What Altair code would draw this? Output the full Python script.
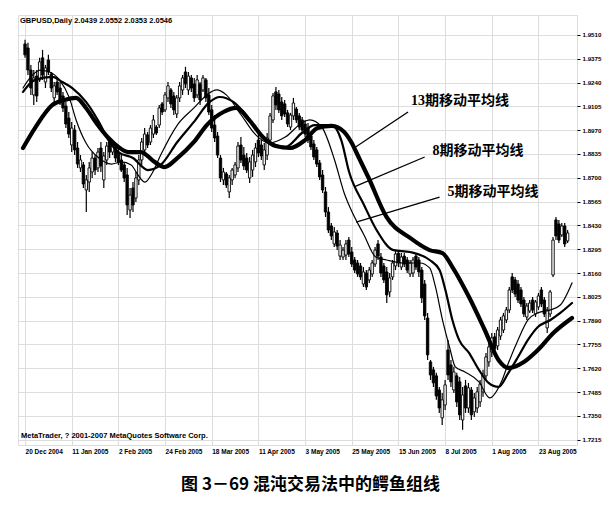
import altair as alt
import pandas as pd

# ---------------- data ----------------
X_LABELS = ["20 Dec 2004", "11 Jan 2005", "2 Feb 2005", "24 Feb 2005", "18 Mar 2005",
            "11 Apr 2005", "3 May 2005", "25 May 2005", "15 Jun 2005", "8 Jul 2005",
            "1 Aug 2005", "23 Aug 2005"]
Y_TICKS = [1.9510, 1.9375, 1.9240, 1.9105, 1.8970, 1.8835, 1.8700, 1.8565, 1.8430,
           1.8295, 1.8160, 1.8025, 1.7890, 1.7755, 1.7620, 1.7485, 1.7350, 1.7215]

OPEN = [1.9459, 1.9436, 1.9311, 1.9170, 1.9277, 1.9255, 1.9380, 1.9243, 1.9368, 1.9289,
        1.9153, 1.9243, 1.9209, 1.9164, 1.9107, 1.9039, 1.8886, 1.8971, 1.8869, 1.8756,
        1.8773, 1.8631, 1.8676, 1.8733, 1.8812, 1.8756, 1.8869, 1.8688, 1.8801, 1.8903,
        1.8846, 1.8869, 1.8846, 1.8801, 1.8773, 1.8716, 1.8517, 1.8642, 1.8585, 1.8688,
        1.8801, 1.8858, 1.8943, 1.8903, 1.8948, 1.8988, 1.8999, 1.9119, 1.9085, 1.9153,
        1.9198, 1.9164, 1.9062, 1.9153, 1.9198, 1.9300, 1.9198, 1.9266, 1.9232, 1.9170,
        1.9232, 1.9198, 1.9255, 1.9170, 1.9085, 1.8999, 1.8937, 1.8812, 1.8688, 1.8722,
        1.8620, 1.8688, 1.8716, 1.8756, 1.8886, 1.8829, 1.8812, 1.8699, 1.8744, 1.8790,
        1.8914, 1.8886, 1.8773, 1.8829, 1.8914, 1.9028, 1.9187, 1.9175, 1.9130, 1.9119,
        1.9068, 1.8988, 1.9051, 1.9090, 1.9051, 1.9028, 1.9005, 1.8982, 1.8937, 1.8892,
        1.8858, 1.8784, 1.8716, 1.8620, 1.8506, 1.8427, 1.8325, 1.8387, 1.8256, 1.8251,
        1.8262, 1.8347, 1.8279, 1.8234, 1.8217, 1.8200, 1.8098, 1.8160, 1.8121, 1.8155,
        1.8211, 1.8325, 1.8251, 1.8200, 1.8166, 1.8053, 1.8138, 1.8200, 1.8273, 1.8194,
        1.8256, 1.8234, 1.8155, 1.8160, 1.8256, 1.8234, 1.8177, 1.8098, 1.7905, 1.7656,
        1.7611, 1.7577, 1.7497, 1.7339, 1.7412, 1.7724, 1.7639, 1.7497, 1.7577, 1.7543,
        1.7327, 1.7520, 1.7395, 1.7497, 1.7373, 1.7395, 1.7429, 1.7486, 1.7577, 1.7656,
        1.7713, 1.7798, 1.7747, 1.7803, 1.7837, 1.7894, 1.7951, 1.8138, 1.8121, 1.8098,
        1.8064, 1.8007, 1.7911, 1.7945, 1.8007, 1.7928, 1.7968, 1.8064, 1.8007, 1.7849,
        1.7928, 1.8149, 1.8461, 1.8438, 1.8376, 1.8427, 1.8342]
HIGH = [1.9482, 1.9465, 1.9340, 1.9311, 1.9311, 1.9380, 1.9425, 1.9340, 1.9397, 1.9300,
        1.9243, 1.9266, 1.9243, 1.9187, 1.9130, 1.9073, 1.9017, 1.8999, 1.8903, 1.8829,
        1.8790, 1.8716, 1.8790, 1.8846, 1.8829, 1.8869, 1.8903, 1.8846, 1.8903, 1.8926,
        1.8903, 1.8886, 1.8869, 1.8829, 1.8790, 1.8756, 1.8642, 1.8676, 1.8733, 1.8829,
        1.8926, 1.8982, 1.8960, 1.8999, 1.9056, 1.8999, 1.9113, 1.9130, 1.9187, 1.9243,
        1.9209, 1.9187, 1.9170, 1.9243, 1.9283, 1.9329, 1.9300, 1.9283, 1.9266, 1.9283,
        1.9243, 1.9283, 1.9266, 1.9209, 1.9113, 1.9056, 1.8960, 1.8829, 1.8756, 1.8733,
        1.8716, 1.8756, 1.8790, 1.8903, 1.8931, 1.8875, 1.8841, 1.8818, 1.8858, 1.8897,
        1.8954, 1.8914, 1.8897, 1.8954, 1.9068, 1.9181, 1.9215, 1.9198, 1.9158, 1.9141,
        1.9085, 1.9068, 1.9153, 1.9102, 1.9068, 1.9045, 1.9028, 1.9011, 1.8954, 1.8914,
        1.8875, 1.8801, 1.8744, 1.8648, 1.8534, 1.8444, 1.8421, 1.8404, 1.8347, 1.8308,
        1.8347, 1.8364, 1.8308, 1.8251, 1.8234, 1.8217, 1.8194, 1.8177, 1.8194, 1.8234,
        1.8308, 1.8347, 1.8273, 1.8217, 1.8194, 1.8160, 1.8234, 1.8290, 1.8290, 1.8273,
        1.8273, 1.8251, 1.8234, 1.8251, 1.8273, 1.8251, 1.8194, 1.8121, 1.7934, 1.7667,
        1.7628, 1.7594, 1.7514, 1.7480, 1.7554, 1.7781, 1.7667, 1.7628, 1.7594, 1.7571,
        1.7514, 1.7554, 1.7537, 1.7514, 1.7480, 1.7514, 1.7554, 1.7611, 1.7707, 1.7764,
        1.7820, 1.7820, 1.7854, 1.7911, 1.7934, 1.7968, 1.8081, 1.8160, 1.8138, 1.8121,
        1.8081, 1.8024, 1.7990, 1.8007, 1.8024, 1.8007, 1.8047, 1.8081, 1.8024, 1.7968,
        1.8064, 1.8364, 1.8478, 1.8461, 1.8444, 1.8444, 1.8404]
LOW = [1.9380, 1.9283, 1.9170, 1.9113, 1.9130, 1.9243, 1.9255, 1.9209, 1.9283, 1.9187,
       1.9130, 1.9170, 1.9113, 1.9073, 1.8982, 1.8926, 1.8846, 1.8829, 1.8756, 1.8733,
       1.8642, 1.8506, 1.8620, 1.8699, 1.8716, 1.8733, 1.8733, 1.8642, 1.8773, 1.8812,
       1.8829, 1.8790, 1.8773, 1.8733, 1.8676, 1.8489, 1.8472, 1.8506, 1.8563, 1.8659,
       1.8773, 1.8829, 1.8869, 1.8886, 1.8926, 1.8943, 1.8982, 1.9056, 1.9073, 1.9130,
       1.9096, 1.9056, 1.9039, 1.9130, 1.9170, 1.9209, 1.9170, 1.9187, 1.9130, 1.9153,
       1.9113, 1.9187, 1.9130, 1.9056, 1.8960, 1.8903, 1.8812, 1.8676, 1.8659, 1.8642,
       1.8585, 1.8659, 1.8699, 1.8733, 1.8784, 1.8744, 1.8727, 1.8671, 1.8705, 1.8761,
       1.8818, 1.8801, 1.8744, 1.8801, 1.8897, 1.9011, 1.9085, 1.9068, 1.9028, 1.9045,
       1.8988, 1.8971, 1.9028, 1.9011, 1.8971, 1.8954, 1.8931, 1.8897, 1.8858, 1.8801,
       1.8761, 1.8688, 1.8614, 1.8478, 1.8387, 1.8347, 1.8308, 1.8290, 1.8234, 1.8234,
       1.8234, 1.8251, 1.8194, 1.8160, 1.8138, 1.8121, 1.8081, 1.8064, 1.8104, 1.8138,
       1.8194, 1.8234, 1.8138, 1.8104, 1.7990, 1.8024, 1.8121, 1.8177, 1.8194, 1.8177,
       1.8194, 1.8160, 1.8138, 1.8138, 1.8177, 1.8138, 1.7990, 1.7894, 1.7667, 1.7554,
       1.7514, 1.7441, 1.7367, 1.7299, 1.7384, 1.7554, 1.7514, 1.7480, 1.7401, 1.7327,
       1.7271, 1.7367, 1.7367, 1.7327, 1.7344, 1.7367, 1.7401, 1.7458, 1.7554, 1.7628,
       1.7684, 1.7707, 1.7724, 1.7781, 1.7820, 1.7877, 1.7934, 1.8047, 1.8024, 1.7990,
       1.7968, 1.7911, 1.7894, 1.7934, 1.7934, 1.7911, 1.7951, 1.7968, 1.7911, 1.7820,
       1.7911, 1.8138, 1.8347, 1.8330, 1.8364, 1.8308, 1.8330]
CLOSE = [1.9397, 1.9311, 1.9209, 1.9266, 1.9164, 1.9357, 1.9283, 1.9323, 1.9300, 1.9209,
         1.9221, 1.9187, 1.9141, 1.9096, 1.9005, 1.8948, 1.8982, 1.8858, 1.8778, 1.8801,
         1.8665, 1.8688, 1.8756, 1.8812, 1.8744, 1.8846, 1.8767, 1.8824, 1.8880, 1.8846,
         1.8880, 1.8812, 1.8790, 1.8744, 1.8699, 1.8546, 1.8602, 1.8546, 1.8699, 1.8801,
         1.8903, 1.8948, 1.8886, 1.8982, 1.9028, 1.8954, 1.9096, 1.9073, 1.9170, 1.9221,
         1.9119, 1.9085, 1.9153, 1.9221, 1.9266, 1.9232, 1.9277, 1.9209, 1.9153, 1.9255,
         1.9141, 1.9266, 1.9153, 1.9073, 1.8982, 1.8926, 1.8829, 1.8699, 1.8733, 1.8659,
         1.8699, 1.8744, 1.8773, 1.8880, 1.8801, 1.8767, 1.8744, 1.8790, 1.8829, 1.8869,
         1.8841, 1.8824, 1.8858, 1.8926, 1.9051, 1.9164, 1.9113, 1.9085, 1.9051, 1.9062,
         1.9005, 1.9056, 1.9124, 1.9028, 1.8988, 1.8971, 1.8948, 1.8914, 1.8875, 1.8818,
         1.8778, 1.8705, 1.8631, 1.8506, 1.8404, 1.8370, 1.8393, 1.8313, 1.8319, 1.8290,
         1.8325, 1.8268, 1.8211, 1.8177, 1.8155, 1.8138, 1.8166, 1.8081, 1.8177, 1.8217,
         1.8290, 1.8256, 1.8160, 1.8121, 1.8036, 1.8132, 1.8217, 1.8268, 1.8217, 1.8251,
         1.8211, 1.8177, 1.8217, 1.8234, 1.8194, 1.8166, 1.8019, 1.7917, 1.7696, 1.7582,
         1.7537, 1.7463, 1.7395, 1.7441, 1.7526, 1.7582, 1.7543, 1.7599, 1.7429, 1.7356,
         1.7469, 1.7395, 1.7509, 1.7356, 1.7452, 1.7486, 1.7531, 1.7588, 1.7684, 1.7741,
         1.7792, 1.7730, 1.7837, 1.7894, 1.7917, 1.7951, 1.8064, 1.8064, 1.8041, 1.8007,
         1.7985, 1.7928, 1.7973, 1.7990, 1.7951, 1.7996, 1.8030, 1.7985, 1.7928, 1.7951,
         1.8053, 1.8347, 1.8370, 1.8347, 1.8427, 1.8325, 1.8387]

# moving-average lines (bar position, price)
MA13_X = [-0.7, 3.4, 9.4, 13.5, 17.5, 20.9, 24.2, 28.6, 32.0, 35.4, 39.7, 44.4, 47.8, 52.2,
          57.9, 62.3, 68.0, 72.4, 76.8, 81.5, 85.9, 90.9, 96.0, 100.3, 105.1, 109.4, 111.8,
          114.5, 117.8, 123.9, 132.0, 138.7, 143.1, 146.5, 152.2, 157.6, 162.3, 165.7,
          171.0, 175.8, 181.1, 187.5]
MA13_Y = [1.8869, 1.8982, 1.9113, 1.9141, 1.9153, 1.9096, 1.9017, 1.8926, 1.8875, 1.8846,
          1.8846, 1.8790, 1.8761, 1.8812, 1.8903, 1.8999, 1.9073, 1.9096, 1.9028, 1.8931,
          1.8880, 1.8869, 1.8914, 1.8982, 1.8994, 1.8960, 1.8903, 1.8812, 1.8699, 1.8478,
          1.8359, 1.8290, 1.8273, 1.8194, 1.8024, 1.7837, 1.7667, 1.7622, 1.7656, 1.7724,
          1.7820, 1.7905]
MA8_X = [-0.7, 3.4, 9.4, 12.8, 16.2, 20.9, 25.3, 28.6, 32.0, 37.0, 42.1, 46.5, 52.2, 57.9,
         63.3, 66.7, 71.4, 75.8, 80.8, 89.2, 94.9, 99.3, 105.1, 108.4, 111.1, 116.2, 120.5,
         126.3, 132.0, 138.7, 142.1, 144.1, 146.5, 148.8, 152.2, 155.6, 158.9, 162.3, 165.7,
         169.0, 172.4, 175.8, 180.1, 183.5, 187.5]
MA8_Y = [1.9187, 1.9255, 1.9272, 1.9243, 1.9209, 1.9130, 1.9017, 1.8914, 1.8846, 1.8812,
         1.8744, 1.8773, 1.8903, 1.9017, 1.9130, 1.9158, 1.9130, 1.9056, 1.8943, 1.8875,
         1.8954, 1.8999, 1.8999, 1.8914, 1.8733, 1.8546, 1.8404, 1.8290, 1.8279, 1.8234,
         1.8177, 1.8064, 1.7894, 1.7781, 1.7707, 1.7611, 1.7537, 1.7514, 1.7594, 1.7684,
         1.7781, 1.7854, 1.7894, 1.7934, 1.7990]
MA5_X = [-0.7, 1.7, 5.1, 8.4, 11.8, 15.2, 17.5, 20.9, 25.3, 29.6, 33.0, 36.4, 38.7, 41.1,
         43.8, 46.5, 52.2, 57.9, 62.3, 65.7, 69.0, 74.1, 79.1, 83.5, 89.2, 94.9, 97.6, 101.7,
         106.1, 109.4, 111.8, 116.2, 120.2, 123.9, 129.6, 135.4, 138.7, 140.7, 143.1, 145.5,
         147.5, 150.8, 155.6, 159.3, 163.3, 165.7, 169.0, 172.4, 175.8, 180.1, 183.5, 187.5]
MA5_Y = [1.9209, 1.9266, 1.9311, 1.9300, 1.9255, 1.9153, 1.9028, 1.8897, 1.8812, 1.8778,
         1.8790, 1.8773, 1.8716, 1.8676, 1.8733, 1.8829, 1.8999, 1.9096, 1.9170, 1.9198,
         1.9170, 1.9056, 1.8943, 1.8897, 1.8931, 1.9011, 1.9028, 1.8988, 1.8801, 1.8614,
         1.8517, 1.8376, 1.8251, 1.8234, 1.8217, 1.8217, 1.8189, 1.8081, 1.7894, 1.7741,
         1.7628, 1.7599, 1.7543, 1.7452, 1.7543, 1.7650, 1.7781, 1.7894, 1.7934, 1.7951,
         1.7979, 1.8104]

ANN_TEXT = ["13期移动平均线", "8期移动平均线", "5期移动平均线"]
ANN_TX = [132.3, 139.7, 144.8]
ANN_TY = [1.9136, 1.8852, 1.8620]
LEAD_X1 = [112.8, 112.8, 113.5]
LEAD_Y1 = [1.8869, 1.8648, 1.8449]
LEAD_X2 = [131.3, 137.0, 142.1]
LEAD_Y2 = [1.9073, 1.8818, 1.8591]

HEADER = "GBPUSD,Daily  2.0439 2.0552 2.0353 2.0546"
FOOTER = "MetaTrader, ? 2001-2007 MetaQuotes Software Corp."
CAPTION = "图 3－69  混沌交易法中的鳄鱼组线"

# ---------------- tables ----------------
bars = pd.DataFrame({"i": list(range(len(OPEN))), "open": OPEN, "high": HIGH,
                     "low": LOW, "close": CLOSE})
ma = pd.concat([
    pd.DataFrame({"i": MA13_X, "p": MA13_Y, "s": "13"}),
    pd.DataFrame({"i": MA8_X, "p": MA8_Y, "s": "8"}),
    pd.DataFrame({"i": MA5_X, "p": MA5_Y, "s": "5"}),
])
ann = pd.DataFrame({"t": ANN_TEXT, "tx": ANN_TX, "ty": ANN_TY, "x1": LEAD_X1,
                    "y1": LEAD_Y1, "x2": LEAD_X2, "y2": LEAD_Y2})

W, H = 559, 430
xscale = alt.Scale(domain=[-0.7, 187.5], nice=False, zero=False)
yscale = alt.Scale(domain=[1.7185, 1.9623], nice=False, zero=False)

lab_js = "[" + ",".join("'%s'" % s for s in X_LABELS) + "]"
xaxis = alt.Axis(values=[16 * k for k in range(len(X_LABELS))],
                 labelExpr=lab_js + "[round(datum.value/16)]",
                 title=None, grid=True, ticks=False, domain=False,
                 labelAlign="left", labelPadding=3, labelFontSize=6.5,
                 labelFontWeight="bold", labelFont="Liberation Sans",
                 labelColor="black", labelOverlap=False)
yaxis = alt.Axis(values=Y_TICKS, format=".4f", orient="right", title=None,
                 grid=True, ticks=True, tickSize=3, tickColor="black",
                 domain=False, labelAlign="left", labelPadding=2,
                 labelFontSize=6.2, labelFontWeight="bold",
                 labelFont="Liberation Sans", labelColor="black",
                 labelOverlap=False)

X = lambda f: alt.X(f, type="quantitative", scale=xscale, axis=xaxis)
Y = lambda f: alt.Y(f, type="quantitative", scale=yscale, axis=yaxis)

wicks = alt.Chart(bars).mark_rule(color="black", strokeWidth=1.2).encode(
    x=X("i"), y=Y("low"), y2="high")
bodies = alt.Chart(bars).mark_bar(size=2.4, stroke="black", strokeWidth=0.9).encode(
    x=X("i"), y=Y("open"), y2="close",
    fill=alt.when(alt.datum.close > alt.datum.open)
            .then(alt.value("white")).otherwise(alt.value("black")))

def ma_line(key, width):
    return alt.Chart(ma).transform_filter(alt.datum.s == key).mark_line(
        color="black", strokeWidth=width, interpolate="monotone",
        strokeCap="round", strokeJoin="round").encode(
        x=X("i"), y=Y("p"), order="i:Q")

lines = ma_line("13", 4.2) + ma_line("8", 2.2) + ma_line("5", 1.2)

leaders = alt.Chart(ann).mark_rule(color="black", strokeWidth=1.3).encode(
    x=X("x1"), y=Y("y1"), x2="x2", y2="y2")
labels = alt.Chart(ann).mark_text(
    align="left", baseline="middle", fontSize=14, fontWeight="bold",
    font="Liberation Serif, Noto Sans CJK SC", color="black").encode(
    x=X("tx"), y=Y("ty"), text="t:N")

header = alt.Chart(pd.DataFrame({"t": [HEADER]})).mark_text(
    align="left", baseline="middle", fontSize=7.5, fontWeight="bold",
    font="Liberation Sans", color="black").encode(
    x=alt.value(2), y=alt.value(6), text="t:N")
footer = alt.Chart(pd.DataFrame({"t": [FOOTER]})).mark_text(
    align="left", baseline="middle", fontSize=7.5, fontWeight="bold",
    font="Liberation Sans", color="black").encode(
    x=alt.value(3), y=alt.value(H - 9), text="t:N")

chart = alt.layer(wicks, bodies, lines, leaders, labels, header, footer).properties(
    width=W, height=H,
    padding={"left": 10, "top": 7, "right": 4, "bottom": 4},
    title=alt.TitleParams(CAPTION, orient="bottom", anchor="middle", frame="group",
                          fontSize=17, fontWeight="bold", font="Noto Sans CJK SC",
                          color="black", offset=22, dx=13),
).configure_view(stroke="black", strokeWidth=1.8).configure_axis(
    gridColor="#111111", gridDash=[2, 2], gridWidth=1.5, gridOpacity=1
).configure(background="white")

chart.save("out.html", embed_options={"renderer": "svg", "actions": False})
